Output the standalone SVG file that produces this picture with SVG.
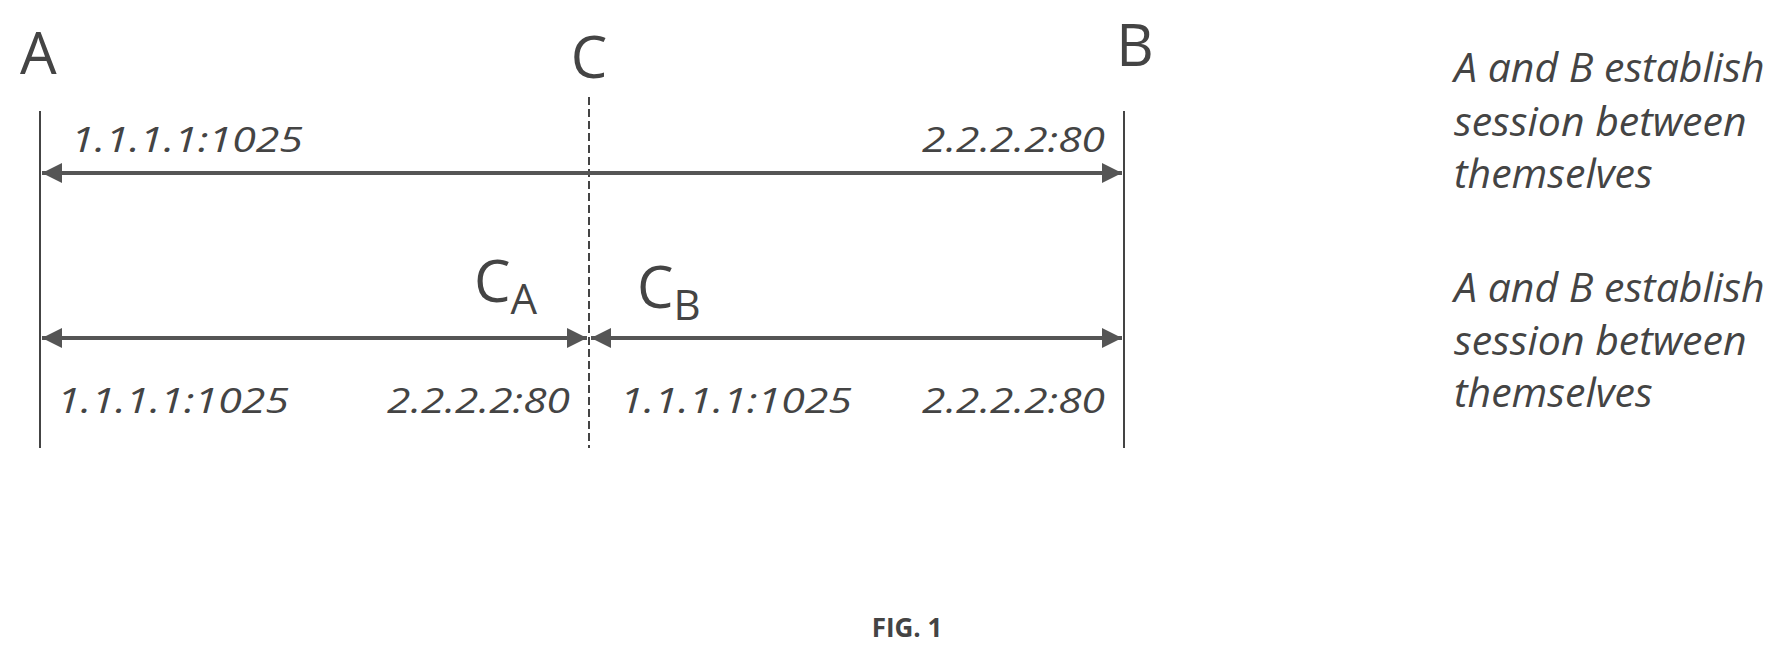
<svg xmlns="http://www.w3.org/2000/svg" width="1789" height="657" viewBox="0 0 1789 657">
<style>
.big{font-family:"Open Sans","Liberation Sans",sans-serif;font-size:58px;fill:#444}
.sub{font-family:"Open Sans","Liberation Sans",sans-serif;font-size:42px;fill:#444}
.ip{font-family:"Open Sans","Liberation Sans",sans-serif;font-style:italic;font-size:34px;fill:#444}
.note{font-family:"Open Sans","Liberation Sans",sans-serif;font-style:italic;font-size:41px;fill:#444}
.vl{stroke:#444;stroke-width:2;fill:none}
.ar{stroke:#555;stroke-width:4;fill:none;marker-start:url(#h);marker-end:url(#h)}
</style>
<defs>
<marker id="h" viewBox="0 0 10 10" refX="10" refY="5" markerWidth="5" markerHeight="5" orient="auto-start-reverse" markerUnits="strokeWidth"><path d="M0,0 L10,5 L0,10 z" fill="#555"/></marker>
</defs>
<rect width="1789" height="657" fill="#fff"/>
<g id="node-A"><text class="big" x="20" y="74">A</text><line class="vl" x1="40" y1="111" x2="40" y2="448"/></g>
<g id="node-C"><text class="big" x="589" y="78" text-anchor="middle">C</text><line class="vl" x1="589" y1="97" x2="589" y2="448" stroke-dasharray="8,4"/></g>
<g id="node-B"><text class="big" x="1135" y="66" text-anchor="middle">B</text><line class="vl" x1="1124" y1="111" x2="1124" y2="448"/></g>
<g id="node-CA"><text class="big" x="474" y="302">C<tspan class="sub" dy="12">A</tspan></text></g>
<g id="node-CB"><text class="big" x="637" y="308">C<tspan class="sub" dy="12">B</tspan></text></g>
<g id="connectors">
<line class="ar" x1="42" y1="173" x2="1122" y2="173"/>
<line class="ar" x1="42" y1="338" x2="587" y2="338"/>
<line class="ar" x1="591" y1="338" x2="1122" y2="338"/>
</g>
<g id="labels">
<text class="ip" x="71" y="152" textLength="232" lengthAdjust="spacingAndGlyphs">1.1.1.1:1025</text>
<text class="ip" x="922" y="152" textLength="183" lengthAdjust="spacingAndGlyphs">2.2.2.2:80</text>
<text class="ip" x="57" y="413" textLength="232" lengthAdjust="spacingAndGlyphs">1.1.1.1:1025</text>
<text class="ip" x="387" y="413" textLength="183" lengthAdjust="spacingAndGlyphs">2.2.2.2:80</text>
<text class="ip" x="620" y="413" textLength="232" lengthAdjust="spacingAndGlyphs">1.1.1.1:1025</text>
<text class="ip" x="922" y="413" textLength="183" lengthAdjust="spacingAndGlyphs">2.2.2.2:80</text>
</g>
<g id="notes">
<text class="note" x="1454" y="82">A and B establish</text>
<text class="note" x="1454" y="136">session between</text>
<text class="note" x="1454" y="188">themselves</text>
<text class="note" x="1454" y="302">A and B establish</text>
<text class="note" x="1454" y="355">session between</text>
<text class="note" x="1454" y="407">themselves</text>
</g>
<text x="907" y="637" text-anchor="middle" font-family="'Open Sans','Liberation Sans',sans-serif" font-size="26" font-weight="bold" fill="#444">FIG. 1</text>
</svg>
